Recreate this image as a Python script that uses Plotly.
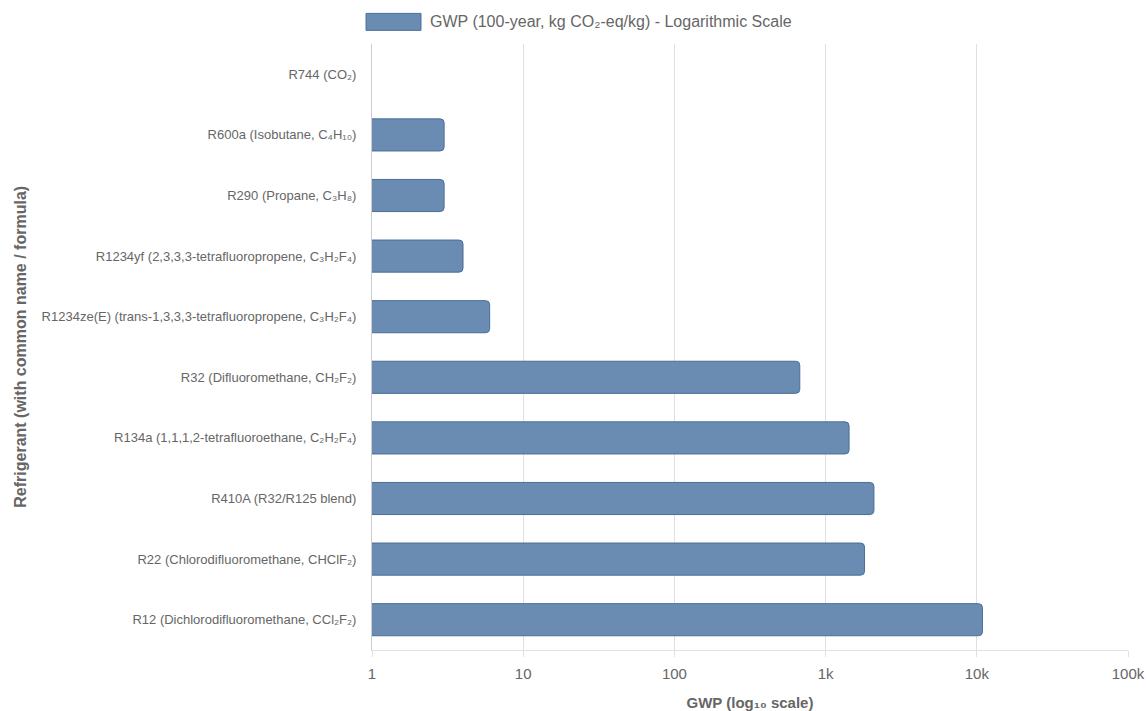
import plotly.graph_objects as go

# Refrigerants, top to bottom
refrigerants = [
    "R744 (CO₂)",
    "R600a (Isobutane, C₄H₁₀)",
    "R290 (Propane, C₃H₈)",
    "R1234yf (2,3,3,3-tetrafluoropropene, C₃H₂F₄)",
    "R1234ze(E) (trans-1,3,3,3-tetrafluoropropene, C₃H₂F₄)",
    "R32 (Difluoromethane, CH₂F₂)",
    "R134a (1,1,1,2-tetrafluoroethane, C₂H₂F₄)",
    "R410A (R32/R125 blend)",
    "R22 (Chlorodifluoromethane, CHClF₂)",
    "R12 (Dichlorodifluoromethane, CCl₂F₂)",
]

# 100-year GWP, kg CO2-eq per kg
gwp_100yr = [1, 3, 3, 4, 6, 675, 1430, 2088, 1810, 10900]

# Log-axis ticks
tick_values = [1, 10, 100, 1000, 10000, 100000]
tick_labels = ["1", "10", "100", "1k", "10k", "100k"]

series_name = "GWP (100-year, kg CO₂-eq/kg) - Logarithmic Scale"

BAR_FILL = "#6a8cb2"
BAR_EDGE = "#4a6e99"
TEXT_GREY = "#666666"
FONT = "Liberation Sans, Arial, sans-serif"

# A bar of value 1 has zero length on a log axis starting at 1: no outline for it
edge_widths = [0 if v <= tick_values[0] else 1 for v in gwp_100yr]

fig = go.Figure()
fig.add_trace(
    go.Bar(
        x=gwp_100yr,
        y=refrigerants,
        orientation="h",
        name=series_name,
        width=0.53,
        marker=dict(color=BAR_FILL, line=dict(color=BAR_EDGE, width=edge_widths), cornerradius=4),
        showlegend=False,
    )
)

# Legend swatch and label above the plot
fig.add_shape(
    type="rect", xref="paper", yref="paper",
    x0=-0.0079, x1=0.0648, y0=1.0225, y1=1.0505,
    fillcolor=BAR_FILL, line=dict(color=BAR_EDGE, width=1),
)
fig.add_annotation(
    xref="paper", yref="paper", x=0.0741, y=1.0365,
    xanchor="left", yanchor="middle", showarrow=False,
    text=series_name, font=dict(family=FONT, size=16, color=TEXT_GREY),
)

# Vertical y-axis title
fig.add_annotation(
    xref="paper", yref="paper", x=-0.466, y=0.5,
    xanchor="center", yanchor="middle", showarrow=False, textangle=-90,
    text="<b>Refrigerant (with common name / formula)</b>",
    font=dict(family=FONT, size=16, color=TEXT_GREY),
)

fig.update_layout(
    width=1147,
    height=711,
    margin=dict(l=372, r=19, t=44, b=61),
    paper_bgcolor="white",
    plot_bgcolor="white",
    font=dict(family=FONT, color=TEXT_GREY),
    bargap=0.47,
)

fig.update_xaxes(
    type="log",
    range=[0, 5],
    tickvals=tick_values,
    ticktext=tick_labels,
    tickfont=dict(size=15, color=TEXT_GREY),
    showgrid=True,
    gridcolor="#e0e0e0",
    gridwidth=1,
    showline=True,
    linecolor="#e0e0e0",
    ticks="outside",
    ticklen=6,
    tickcolor="#e0e0e0",
    ticklabelstandoff=4,
    zeroline=False,
    title=dict(text="<b>GWP (log₁₀ scale)</b>", font=dict(size=15, color=TEXT_GREY), standoff=16),
    automargin=False,
)

fig.update_yaxes(
    type="category",
    autorange="reversed",
    tickfont=dict(size=13, color=TEXT_GREY),
    showgrid=False,
    showline=True,
    linecolor="#cccccc",
    linewidth=1,
    ticks="",
    ticklabelstandoff=12,
    zeroline=False,
    automargin=False,
)

fig.write_html("out.html")
